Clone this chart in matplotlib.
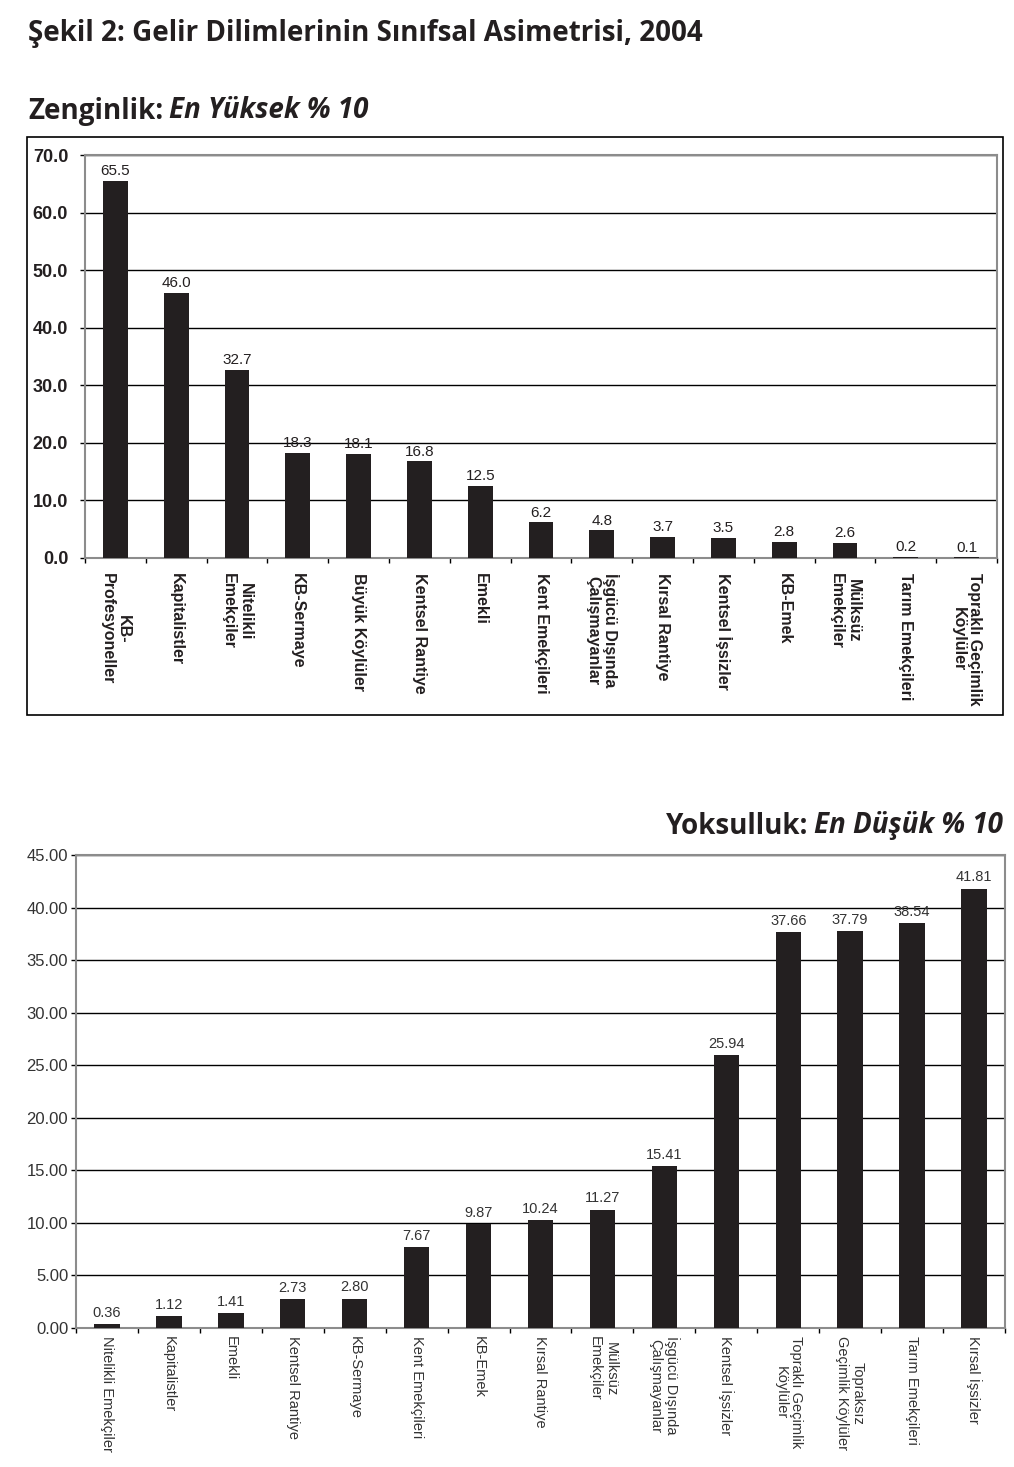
import matplotlib
matplotlib.use("Agg")
import matplotlib.pyplot as plt
from matplotlib.patches import Rectangle
import numpy as np

# ---------------- data ----------------
top_labels = ["KB-\nProfesyoneller", "Kapitalistler", "Nitelikli\nEmekçiler", "KB-Sermaye",
              "Büyük Köylüler", "Kentsel Rantiye", "Emekli", "Kent Emekçileri",
              "İşgücü Dışında\nÇalışmayanlar", "Kırsal Rantiye", "Kentsel İşsizler",
              "KB-Emek", "Mülksüz\nEmekçiler", "Tarım Emekçileri", "Topraklı Geçimlik\nKöylüler"]
top_values = [65.5, 46.0, 32.7, 18.3, 18.1, 16.8, 12.5, 6.2, 4.8, 3.7, 3.5, 2.8, 2.6, 0.2, 0.1]
top_yticks = [0, 10, 20, 30, 40, 50, 60, 70]

bot_labels = ["Nitelikli Emekçiler", "Kapitalistler", "Emekli", "Kentsel Rantiye", "KB-Sermaye",
              "Kent Emekçileri", "KB-Emek", "Kırsal Rantiye", "Mülksüz\nEmekçiler",
              "İşgücü Dışında\nÇalışmayanlar", "Kentsel İşsizler", "Topraklı Geçimlik\nKöylüler",
              "Topraksız\nGeçimlik Köylüler", "Tarım Emekçileri", "Kırsal İşsizler"]
bot_values = [0.36, 1.12, 1.41, 2.73, 2.80, 7.67, 9.87, 10.24, 11.27, 15.41, 25.94,
              37.66, 37.79, 38.54, 41.81]
bot_yticks = [0, 5, 10, 15, 20, 25, 30, 35, 40, 45]

main_title = "Şekil 2: Gelir Dilimlerinin Sınıfsal Asimetrisi, 2004"
top_title_a, top_title_b = "Zenginlik:", "En Yüksek % 10"
bot_title_a, bot_title_b = "Yoksulluk:", "En Düşük % 10"

# ---------------- style ----------------
W, H = 1014, 1467
fig = plt.figure(figsize=(W / 100, H / 100), dpi=100)
fig.patch.set_facecolor("white")
ARIAL = "Liberation Sans"
TITLE_FONT = "Open Sans"
BAR = "#231f20"
SPINE = "#8c8c8c"
TCOL = "#231f20"


def fx(px):
    return px / W


def fy(py):
    return 1 - py / H


def style_axes(ax, n):
    for s in ax.spines.values():
        s.set_color(SPINE)
        s.set_linewidth(1.5)
    ax.set_xlim(-0.5, n - 0.5)
    ax.yaxis.grid(True, color="black", linewidth=1)
    ax.set_axisbelow(True)
    ax.set_xticks(np.arange(n))
    ax.set_xticks(np.arange(n + 1) - 0.5, minor=True)
    ax.tick_params(axis="x", which="major", length=0)
    ax.tick_params(axis="x", which="minor", length=3.6, color="black", width=1)
    ax.tick_params(axis="y", length=3.6, color="black", width=1)


# ---------------- axes ----------------
ax1 = fig.add_axes([fx(85), fy(558), fx(997) - fx(85), fy(155) - fy(558)])
ax2 = fig.add_axes([fx(76), fy(1328), fx(1005) - fx(76), fy(855) - fy(1328)])

# ---------------- main title ----------------
fig.text(fx(28), fy(33), main_title, fontsize=20, fontweight="bold",
         family=TITLE_FONT, color=TCOL, ha="left", va="center")

# ---------------- top chart ----------------
fig.add_artist(Rectangle((fx(27), fy(715)), fx(1003) - fx(27), fy(137) - fy(715),
                         transform=fig.transFigure, fill=False, edgecolor="black",
                         linewidth=1.2))
t1 = fig.text(fx(28), fy(111), top_title_a, fontsize=20, fontweight="bold",
              family=TITLE_FONT, color=TCOL, ha="left", va="center")
ax1.annotate(top_title_b, xy=(1, 0), xycoords=t1, xytext=(4, 0), textcoords="offset points",
             fontsize=20, fontweight="bold", fontstyle="italic", family=TITLE_FONT,
             color=TCOL, ha="left", va="bottom", annotation_clip=False)

x1 = np.arange(len(top_values))
ax1.bar(x1, top_values, width=0.41, color=BAR, zorder=3)
style_axes(ax1, len(top_values))
ax1.set_ylim(0, 70)
ax1.set_yticks(top_yticks)
ax1.set_yticklabels([f"{v:.1f}" for v in top_yticks], fontsize=13, fontweight="bold",
                    family=ARIAL, color=TCOL)
ax1.tick_params(axis="y", pad=8.5)
ax1.set_xticklabels(top_labels, rotation=270, fontsize=11.5, fontweight="bold",
                    family=ARIAL, color=TCOL, ha="center", va="top",
                    multialignment="center", linespacing=1.15)
ax1.tick_params(axis="x", which="major", pad=11)
for xi, v in zip(x1, top_values):
    ax1.annotate(f"{v:.1f}", xy=(xi, v), xytext=(0, 2), textcoords="offset points",
                 ha="center", va="bottom", fontsize=11, family=ARIAL, color=TCOL,
                 zorder=4)

# ---------------- bottom chart ----------------
t3 = fig.text(fx(1003), fy(826), bot_title_b, fontsize=20, fontweight="bold",
              fontstyle="italic", family=TITLE_FONT, color=TCOL,
              ha="right", va="center")
ax2.annotate(bot_title_a, xy=(0, 0), xycoords=t3, xytext=(-4, 0), textcoords="offset points",
             fontsize=20, fontweight="bold", family=TITLE_FONT, color=TCOL,
             ha="right", va="bottom", annotation_clip=False)

x2 = np.arange(len(bot_values))
ax2.bar(x2, bot_values, width=0.41, color=BAR, zorder=3)
style_axes(ax2, len(bot_values))
ax2.set_ylim(0, 45)
ax2.set_yticks(bot_yticks)
ax2.set_yticklabels([f"{v:.2f}" for v in bot_yticks], fontsize=12, family=ARIAL,
                    color="#333333")
ax2.tick_params(axis="y", pad=2)
ax2.set_xticklabels(bot_labels, rotation=270, fontsize=10.5, family=ARIAL,
                    color="#333333", ha="center", va="top", multialignment="center",
                    linespacing=1.15)
ax2.tick_params(axis="x", which="major", pad=6)
for xi, v in zip(x2, bot_values):
    ax2.annotate(f"{v:.2f}", xy=(xi, v), xytext=(0, 3), textcoords="offset points",
                 ha="center", va="bottom", fontsize=10.5, family=ARIAL, color="#333333",
                 zorder=4)

fig.savefig("out.png", dpi=100, facecolor="white")
